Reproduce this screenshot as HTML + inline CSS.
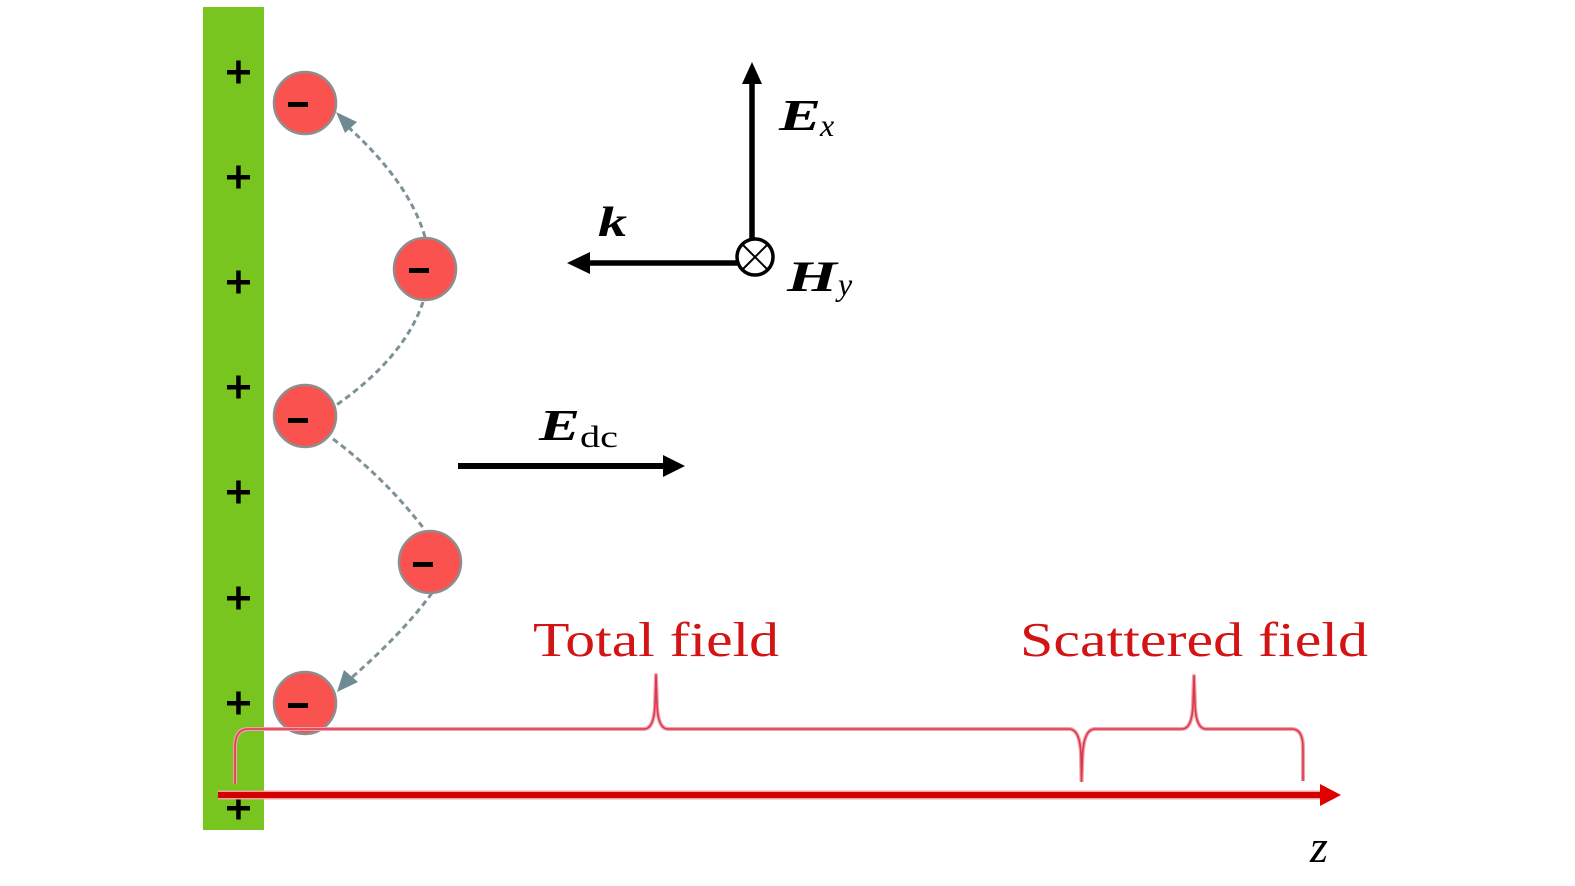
<!DOCTYPE html>
<html>
<head>
<meta charset="utf-8">
<style>
  html,body{margin:0;padding:0;background:#fff;}
  svg{display:block;}
</style>
</head>
<body>
<svg width="1575" height="886" viewBox="0 0 1575 886" xmlns="http://www.w3.org/2000/svg">
  <rect width="1575" height="886" fill="#ffffff"/>

  <!-- green plate -->
  <rect x="203" y="7" width="61" height="823" fill="#79c51f"/>

  <!-- plus signs -->
  <g fill="#000">
    <rect x="227" y="70" width="23" height="4.5"/><rect x="236.2" y="60.5" width="4.5" height="23"/>
    <rect x="227" y="175" width="23" height="4.5"/><rect x="236.2" y="165.5" width="4.5" height="23"/>
    <rect x="227" y="280" width="23" height="4.5"/><rect x="236.2" y="270.5" width="4.5" height="23"/>
    <rect x="227" y="385" width="23" height="4.5"/><rect x="236.2" y="375.5" width="4.5" height="23"/>
    <rect x="227" y="490" width="23" height="4.5"/><rect x="236.2" y="480.5" width="4.5" height="23"/>
    <rect x="227" y="596" width="23" height="4.5"/><rect x="236.2" y="586.5" width="4.5" height="23"/>
    <rect x="227" y="701" width="23" height="4.5"/><rect x="236.2" y="691.5" width="4.5" height="23"/>
    <rect x="227" y="806" width="23" height="4.5"/><rect x="236.2" y="796.5" width="4.5" height="23"/>
  </g>

  <!-- dashed trajectories -->
  <g fill="none" stroke="#7d9197" stroke-width="3" stroke-dasharray="6 4">
    <path d="M425 237 Q409 182 347 126"/>
    <path d="M423 302 Q404 358 335 406"/>
    <path d="M333 439 Q385 478 425 530"/>
    <path d="M432 593 Q402 634 350 679"/>
  </g>
  <g fill="#6e8a93">
    <polygon points="336,112 357,122 345,133"/>
    <polygon points="337,692 344,670 358,682"/>
  </g>

  <!-- electrons -->
  <g fill="#f9524f" stroke="#8e8e8e" stroke-width="2.5">
    <circle cx="305" cy="103" r="31"/>
    <circle cx="425" cy="269" r="31"/>
    <circle cx="305" cy="416" r="31"/>
    <circle cx="430" cy="562" r="31"/>
    <circle cx="305" cy="703" r="31"/>
  </g>
  <g fill="#000">
    <rect x="288" y="102" width="20" height="5"/>
    <rect x="409" y="268" width="20" height="5"/>
    <rect x="288" y="418" width="20" height="5"/>
    <rect x="413" y="562" width="20" height="5"/>
    <rect x="288" y="703" width="20" height="5"/>
  </g>

  <!-- Ex arrow -->
  <line x1="752" y1="239" x2="752" y2="82" stroke="#000" stroke-width="5.5"/>
  <polygon points="742,84 752,62 762,84" fill="#000"/>
  <!-- k arrow -->
  <line x1="737" y1="263" x2="588" y2="263" stroke="#000" stroke-width="5.5"/>
  <polygon points="590,252 567,263 590,274" fill="#000"/>
  <!-- Hy circle -->
  <circle cx="755" cy="257" r="18" fill="#fff" stroke="#000" stroke-width="3.5"/>
  <line x1="743" y1="245" x2="767" y2="269" stroke="#000" stroke-width="2"/>
  <line x1="767" y1="245" x2="743" y2="269" stroke="#000" stroke-width="2"/>

  <!-- labels -->
  <g font-family="'Liberation Serif', serif" fill="#000">
    <text x="779" y="130" font-size="44" font-weight="bold" font-style="italic" textLength="42" lengthAdjust="spacingAndGlyphs">E</text>
    <text x="820" y="136" font-size="32" font-style="italic">x</text>
    <text x="598" y="236" font-size="42" font-weight="bold" font-style="italic" textLength="29" lengthAdjust="spacingAndGlyphs">k</text>
    <text x="787" y="291" font-size="43" font-weight="bold" font-style="italic" textLength="50" lengthAdjust="spacingAndGlyphs">H</text>
    <text x="838" y="295" font-size="32" font-style="italic">y</text>
    <text x="539" y="440" font-size="44" font-weight="bold" font-style="italic" textLength="41" lengthAdjust="spacingAndGlyphs">E</text>
    <text x="580" y="447" font-size="31" textLength="38" lengthAdjust="spacingAndGlyphs">dc</text>
    <text x="1310" y="862" font-size="46" font-style="italic">z</text>
  </g>

  <!-- E_dc arrow -->
  <line x1="458" y1="466" x2="664" y2="466" stroke="#000" stroke-width="6"/>
  <polygon points="663,455 685,466 663,477" fill="#000"/>

  <!-- braces -->
  <path d="M235 784 L235 748 Q235 729 248 729 L644 729 Q654 729 655 705 L656 675 L657 705 Q658 729 668 729 L1069 729 Q1080 729 1081 755 L1081.5 782 M1081.5 782 L1082.5 755 Q1084 729 1095 729 L1182 729 Q1192 729 1193 705 L1194 676 L1195 705 Q1196 729 1206 729 L1292 729 Q1303 729 1303 748 L1303 781"
        fill="none" stroke="#f3a0aa" stroke-width="4" stroke-linejoin="round"/>
  <path d="M235 784 L235 748 Q235 729 248 729 L644 729 Q654 729 655 705 L656 675 L657 705 Q658 729 668 729 L1069 729 Q1080 729 1081 755 L1081.5 782 M1081.5 782 L1082.5 755 Q1084 729 1095 729 L1182 729 Q1192 729 1193 705 L1194 676 L1195 705 Q1196 729 1206 729 L1292 729 Q1303 729 1303 748 L1303 781"
        fill="none" stroke="#d8394e" stroke-width="1.6" stroke-linejoin="round"/>

  <!-- z axis -->
  <line x1="218" y1="795" x2="1322" y2="795" stroke="#f5a0a0" stroke-width="9"/>
  <line x1="218" y1="795" x2="1322" y2="795" stroke="#d20000" stroke-width="6"/>
  <polygon points="1320,784 1341,795 1320,806" fill="#e00000"/>

  <!-- field labels -->
  <g font-family="'Liberation Serif', serif" fill="#d21414" font-size="49">
    <text x="533" y="656" textLength="246" lengthAdjust="spacingAndGlyphs">Total field</text>
    <text x="1020" y="656" textLength="348" lengthAdjust="spacingAndGlyphs">Scattered field</text>
  </g>
</svg>
</body>
</html>
